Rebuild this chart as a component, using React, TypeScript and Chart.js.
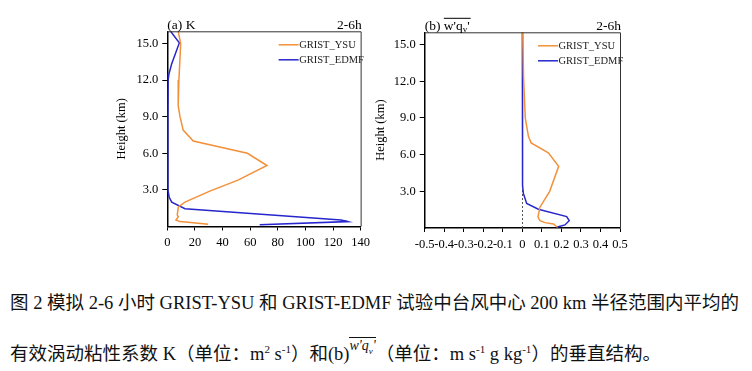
import React, { useEffect, useRef } from 'react';
import { Chart, registerables } from 'chart.js';
Chart.register(...registerables);

// ---------- data ----------
const heightTicks = [3, 6, 9, 12, 15];
const kTicks = [0, 20, 40, 60, 80, 100, 120, 140];
const fluxTicks = [-0.5, -0.4, -0.3, -0.2, -0.1, 0, 0.1, 0.2, 0.3, 0.4, 0.5];
const seriesNames = ['GRIST_YSU', 'GRIST_EDMF'];

// (a) K, m2 s-1
const kYsuHeight = [16.0, 15.0, 12.0, 9.9, 9.0, 7.9, 7.0, 6.0, 5.0, 3.8, 2.9, 2.0, 1.6, 0.95, 0.8, 0.53, 0.4, 0.3, 0.18];
const kYsuValue = [7.9, 9.7, 8.4, 7.9, 9.2, 11.5, 18.8, 58.0, 72.2, 51.2, 30.8, 12.8, 8.0, 7.2, 8.0, 6.3, 9.2, 18.8, 29.6];
const kEdmfHeight = [16.0, 15.05, 13.35, 12.5, 12.0, 9.0, 3.0, 2.4, 2.0, 1.46, 0.53, 0.4, 0.15];
const kEdmfValue = [2.4, 8.7, 3.2, 1.2, 0.6, 0.4, 0.4, 1.4, 3.2, 12.8, 125.8, 130.6, 66.9];

// (b) w'qv', m s-1 g kg-1
const fluxYsuHeight = [16.0, 12.4, 9.0, 7.5, 6.96, 6.14, 5.04, 3.0, 1.7, 0.9, 0.6, 0.44, 0.33, 0.06];
const fluxYsuValue = [0.002, 0.006, 0.015, 0.031, 0.045, 0.133, 0.186, 0.14, 0.09, 0.08, 0.09, 0.116, 0.159, 0.18];
const fluxEdmfHeight = [16.0, 12.0, 6.0, 3.5, 2.85, 2.0, 1.53, 0.93, 0.6, 0.25, 0.06];
const fluxEdmfValue = [0.0, 0.0, 0.001, 0.002, 0.005, 0.022, 0.082, 0.227, 0.24, 0.218, 0.175];

const ORANGE = '#F2913A';
const BLUE = '#2626CC';
const SERIF = '"Liberation Serif", "Times New Roman", serif';

const pts = (xs: number[], ys: number[]) => xs.map((x, i) => ({ x, y: ys[i] }));

type Decor = { panel: 'a' | 'b'; zeroLine: boolean };

function decorPlugin(cfg: Decor) {
  return {
    id: 'decor',
    beforeDatasetsDraw(chart: any) {
      if (!cfg.zeroLine) return;
      const { ctx, chartArea: a } = chart;
      const x0 = Math.round(chart.scales.x.getPixelForValue(0)) + 0.5;
      ctx.save();
      ctx.strokeStyle = '#555';
      ctx.lineWidth = 1;
      ctx.setLineDash([2, 2]);
      ctx.beginPath();
      ctx.moveTo(x0, a.bottom);
      ctx.lineTo(x0, a.top);
      ctx.stroke();
      ctx.restore();
    },
    afterDraw(chart: any) {
      const { ctx, chartArea: a } = chart;
      ctx.save();
      // top & right frame
      ctx.strokeStyle = '#333';
      ctx.lineWidth = 1;
      ctx.beginPath();
      ctx.moveTo(a.left, a.top + 0.5);
      ctx.lineTo(a.right + 0.5, a.top + 0.5);
      ctx.lineTo(a.right + 0.5, a.bottom);
      ctx.stroke();

      // panel labels
      ctx.fillStyle = '#000';
      ctx.textBaseline = 'alphabetic';
      ctx.font = `13.5px ${SERIF}`;
      ctx.textAlign = 'right';
      ctx.fillText('2-6h', a.right + 1, a.top - 2);
      ctx.textAlign = 'left';
      if (cfg.panel === 'a') {
        ctx.fillText('(a) K', a.left, a.top - 2);
      } else {
        const base = a.top - 2;
        ctx.fillText('(b) ', a.left, base);
        let x = a.left + ctx.measureText('(b) ').width;
        const x1 = x;
        ctx.fillText("w'q", x, base);
        x += ctx.measureText("w'q").width;
        ctx.font = `9px ${SERIF}`;
        ctx.fillText('v', x, base + 2);
        x += ctx.measureText('v').width;
        ctx.font = `13.5px ${SERIF}`;
        ctx.fillText("'", x, base);
        x += ctx.measureText("'").width;
        ctx.beginPath();
        ctx.strokeStyle = '#000';
        ctx.moveTo(x1, base - 12);
        ctx.lineTo(x + 1, base - 12);
        ctx.stroke();
      }

      // y axis title
      ctx.save();
      ctx.font = `12.5px ${SERIF}`;
      ctx.textAlign = 'center';
      ctx.textBaseline = 'middle';
      ctx.translate(a.left - (cfg.panel === 'a' ? 46 : 44), (a.top + a.bottom) / 2);
      ctx.rotate(-Math.PI / 2);
      ctx.fillText('Height (km)', 0, 0);
      ctx.restore();

      // legend
      const colors = [ORANGE, BLUE];
      ctx.font = `10.5px ${SERIF}`;
      ctx.textBaseline = 'middle';
      ctx.textAlign = 'left';
      seriesNames.forEach((name, i) => {
        const y = a.top + 13.5 + i * 15;
        ctx.strokeStyle = colors[i];
        ctx.lineWidth = 1.5;
        ctx.beginPath();
        ctx.moveTo(a.right - 82, y);
        ctx.lineTo(a.right - 62, y);
        ctx.stroke();
        ctx.fillStyle = '#222';
        ctx.fillText(name, a.right - 61.5, y);
      });
      ctx.restore();
    },
  };
}

function Panel(props: {
  left: number; width: number; height: number;
  yAxisWidth: number; xAxisHeight: number; padTop: number; padRight: number;
  xMin: number; xMax: number; xTicks: number[]; fmt: (v: number) => string;
  ysu: { x: number; y: number }[]; edmf: { x: number; y: number }[];
  decor: Decor;
}) {
  const ref = useRef<HTMLCanvasElement | null>(null);
  useEffect(() => {
    if (!ref.current) return;
    const tickFont = { family: SERIF, size: 12.5 };
    const chart = new Chart(ref.current, {
      type: 'line',
      data: {
        datasets: [
          { label: seriesNames[0], data: props.ysu, borderColor: ORANGE, borderWidth: 1.5, pointRadius: 0, fill: false, tension: 0 },
          { label: seriesNames[1], data: props.edmf, borderColor: BLUE, borderWidth: 1.5, pointRadius: 0, fill: false, tension: 0 },
        ],
      },
      options: {
        animation: false,
        responsive: false,
        devicePixelRatio: 1,
        layout: { padding: { top: props.padTop, right: props.padRight, left: 0, bottom: 0 } },
        plugins: { legend: { display: false }, title: { display: false }, tooltip: { enabled: false } },
        scales: {
          x: {
            type: 'linear',
            min: props.xMin,
            max: props.xMax,
            afterBuildTicks: (s: any) => { s.ticks = props.xTicks.map((v) => ({ value: v })); },
            afterFit: (s: any) => { s.height = props.xAxisHeight; },
            ticks: { color: '#000', font: tickFont, padding: 5, maxRotation: 0, autoSkip: false, callback: (v: any) => props.fmt(Number(v)) },
            grid: { drawOnChartArea: false, drawTicks: true, tickLength: 4, tickColor: '#000', tickWidth: 1 },
            border: { display: true, color: '#000', width: 1.5 },
          },
          y: {
            type: 'linear',
            min: 0,
            max: 16,
            afterBuildTicks: (s: any) => { s.ticks = heightTicks.map((v) => ({ value: v })); },
            afterFit: (s: any) => { s.width = props.yAxisWidth; },
            ticks: { color: '#000', font: tickFont, padding: 4, autoSkip: false, callback: (v: any) => Number(v).toFixed(1) },
            grid: { drawOnChartArea: false, drawTicks: true, tickLength: 5, tickColor: '#000', tickWidth: 1 },
            border: { display: true, color: '#000', width: 1.5 },
          },
        },
      },
      plugins: [decorPlugin(props.decor)],
    } as any);
    return () => chart.destroy();
  }, []);
  return (
    <canvas
      ref={ref}
      width={props.width}
      height={props.height}
      style={{ position: 'absolute', left: props.left, top: 0, width: props.width, height: props.height }}
    />
  );
}

export default function App() {
  const capStyle: React.CSSProperties = {
    position: 'absolute',
    left: 10,
    whiteSpace: 'nowrap',
    fontFamily: '"Liberation Serif", "Noto Sans CJK SC", serif',
    fontSize: 18.5,
    color: '#111',
    lineHeight: '22px',
  };
  const sup: React.CSSProperties = { fontSize: 11 };
  const ov = (
    <span style={{ display: 'inline-block', position: 'relative', top: -10, fontSize: 14, fontStyle: 'italic', borderTop: '1px solid #111', lineHeight: '15px' }}>
      w&apos;q<sub style={{ fontSize: 9 }}>v</sub>&apos;
    </span>
  );
  return (
    <div style={{ position: 'fixed', left: 0, top: 0, width: 752, height: 371, background: '#fff', overflow: 'hidden' }}>
      <Panel
        left={80} width={295} height={262}
        yAxisWidth={87.3} xAxisHeight={35.5} padTop={31.3} padRight={13.7}
        xMin={0} xMax={140} xTicks={kTicks} fmt={(v) => String(v)}
        ysu={pts(kYsuValue, kYsuHeight)} edmf={pts(kEdmfValue, kEdmfHeight)}
        decor={{ panel: 'a', zeroLine: false }}
      />
      <Panel
        left={375} width={270} height={262}
        yAxisWidth={49.7} xAxisHeight={34} padTop={32.3} padRight={25}
        xMin={-0.5} xMax={0.5} xTicks={fluxTicks} fmt={(v) => (Math.abs(v) < 1e-9 ? '0' : v.toFixed(1))}
        ysu={pts(fluxYsuValue, fluxYsuHeight)} edmf={pts(fluxEdmfValue, fluxEdmfHeight)}
        decor={{ panel: 'b', zeroLine: true }}
      />
      <div style={{ ...capStyle, top: 292 }}>
        图 2 模拟 2-6 小时 GRIST-YSU 和 GRIST-EDMF 试验中台风中心 200 km 半径范围内平均的
      </div>
      <div style={{ ...capStyle, top: 338 }}>
        有效涡动粘性系数 K（单位：m<sup style={sup}>2</sup> s<sup style={sup}>-1</sup>）和(b){ov}（单位：m s<sup style={sup}>-1</sup> g kg<sup style={sup}>-1</sup>）的垂直结构。
      </div>
    </div>
  );
}
